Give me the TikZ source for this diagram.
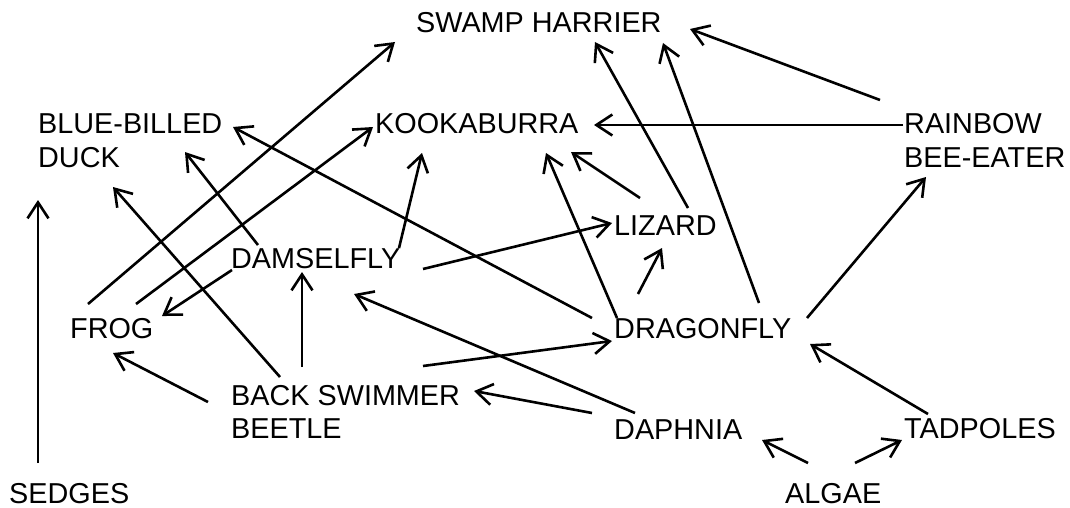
\documentclass[tikz,border=0pt]{standalone}
\usepackage{fontspec}
\setmainfont{Liberation Sans}
\usetikzlibrary{arrows.meta}
\begin{document}
\begin{tikzpicture}[x=1pt,y=-1pt,
  lbl/.style={anchor=base west, inner sep=0pt, font=\fontsize{28.8}{33}\selectfont, align=left},
  feed/.style={line width=2.6pt, -{Straight Barb[length=16pt,width=21pt]}}]
\useasboundingbox (0,0) rectangle (1070,508);
\fill[white] (0,0) rectangle (1070,508);
% organisms (multi-line nodes: base = baseline of last line)
\node[lbl] (swamp) at (416,33) {SWAMP HARRIER};
\node[lbl] (duck) at (38,167) {BLUE-BILLED\\DUCK};
\node[lbl] (kook) at (375,134) {KOOKABURRA};
\node[lbl] (rain) at (904,167) {RAINBOW\\BEE-EATER};
\node[lbl] (liz) at (614,235) {LIZARD};
\node[lbl] (dams) at (231,268) {DAMSELFLY};
\node[lbl] (frog) at (70,338) {FROG};
\node[lbl] (drag) at (614,338) {DRAGONFLY};
\node[lbl] (back) at (231,438) {BACK SWIMMER\\BEETLE};
\node[lbl] (daph) at (614,439) {DAPHNIA};
\node[lbl] (tad) at (904,438) {TADPOLES};
\node[lbl, text depth=0pt] (sedg) at (9,503) {SEDGES};
\node[lbl, text depth=0pt] (alg) at (785,503) {ALGAE};
% arrow end points
\coordinate (sedT) at (38,463);   \coordinate (sedH) at (38,200);
\coordinate (frogT1) at (88,304); \coordinate (swampH1) at (395,42);
\coordinate (frogT2) at (136,304); \coordinate (kookH1) at (373,127);
\coordinate (damsT1) at (232,270); \coordinate (frogH1) at (162,316);
\coordinate (backT1) at (280,377); \coordinate (duckH1) at (113,187);
\coordinate (damsT2) at (258,245); \coordinate (duckH2) at (185,152);
\coordinate (dragT1) at (592,318); \coordinate (duckH3) at (233,127);
\coordinate (backT2) at (302,367); \coordinate (damsH1) at (302,272);
\coordinate (backT3) at (208,402); \coordinate (frogH2) at (113,353);
\coordinate (damsT3) at (399,248); \coordinate (kookH2) at (422,153);
\coordinate (damsT4) at (423,269); \coordinate (lizH1) at (612,223);
\coordinate (backT4) at (423,366); \coordinate (dragH1) at (612,341);
\coordinate (daphT1) at (635,413); \coordinate (damsH2) at (354,294);
\coordinate (daphT2) at (592,413); \coordinate (backH1) at (474,391);
\coordinate (dragT2) at (617,318); \coordinate (kookH3) at (546,153);
\coordinate (lizT1) at (640,198);  \coordinate (kookH4) at (571,152);
\coordinate (dragT3) at (638,294); \coordinate (lizH2) at (662,248);
\coordinate (lizT2) at (688,208);  \coordinate (swampH2) at (595,42);
\coordinate (dragT4) at (759,303); \coordinate (swampH3) at (663,43);
\coordinate (rainT1) at (880,100); \coordinate (swampH4) at (690,29);
\coordinate (rainT2) at (903,125); \coordinate (kookH5) at (594,125);
\coordinate (dragT5) at (807,318); \coordinate (rainH1) at (926,177);
\coordinate (tadT1) at (928,414);  \coordinate (dragH2) at (810,344);
\coordinate (algT1) at (808,463);  \coordinate (daphH1) at (762,440);
\coordinate (algT2) at (855,463);  \coordinate (tadH1) at (902,440);
% feeding links
\draw[feed] (sedT) -- (sedH);
\draw[feed] (frogT1) -- (swampH1);
\draw[feed] (frogT2) -- (kookH1);
\draw[feed] (damsT1) -- (frogH1);
\draw[feed] (backT1) -- (duckH1);
\draw[feed] (damsT2) -- (duckH2);
\draw[feed] (dragT1) -- (duckH3);
\draw[feed] (backT2) -- (damsH1);
\draw[feed] (backT3) -- (frogH2);
\draw[feed] (damsT3) -- (kookH2);
\draw[feed] (damsT4) -- (lizH1);
\draw[feed] (backT4) -- (dragH1);
\draw[feed] (daphT1) -- (damsH2);
\draw[feed] (daphT2) -- (backH1);
\draw[feed] (dragT2) -- (kookH3);
\draw[feed] (lizT1) -- (kookH4);
\draw[feed] (dragT3) -- (lizH2);
\draw[feed] (lizT2) -- (swampH2);
\draw[feed] (dragT4) -- (swampH3);
\draw[feed] (rainT1) -- (swampH4);
\draw[feed] (rainT2) -- (kookH5);
\draw[feed] (dragT5) -- (rainH1);
\draw[feed] (tadT1) -- (dragH2);
\draw[feed] (algT1) -- (daphH1);
\draw[feed] (algT2) -- (tadH1);
\end{tikzpicture}
\end{document}
